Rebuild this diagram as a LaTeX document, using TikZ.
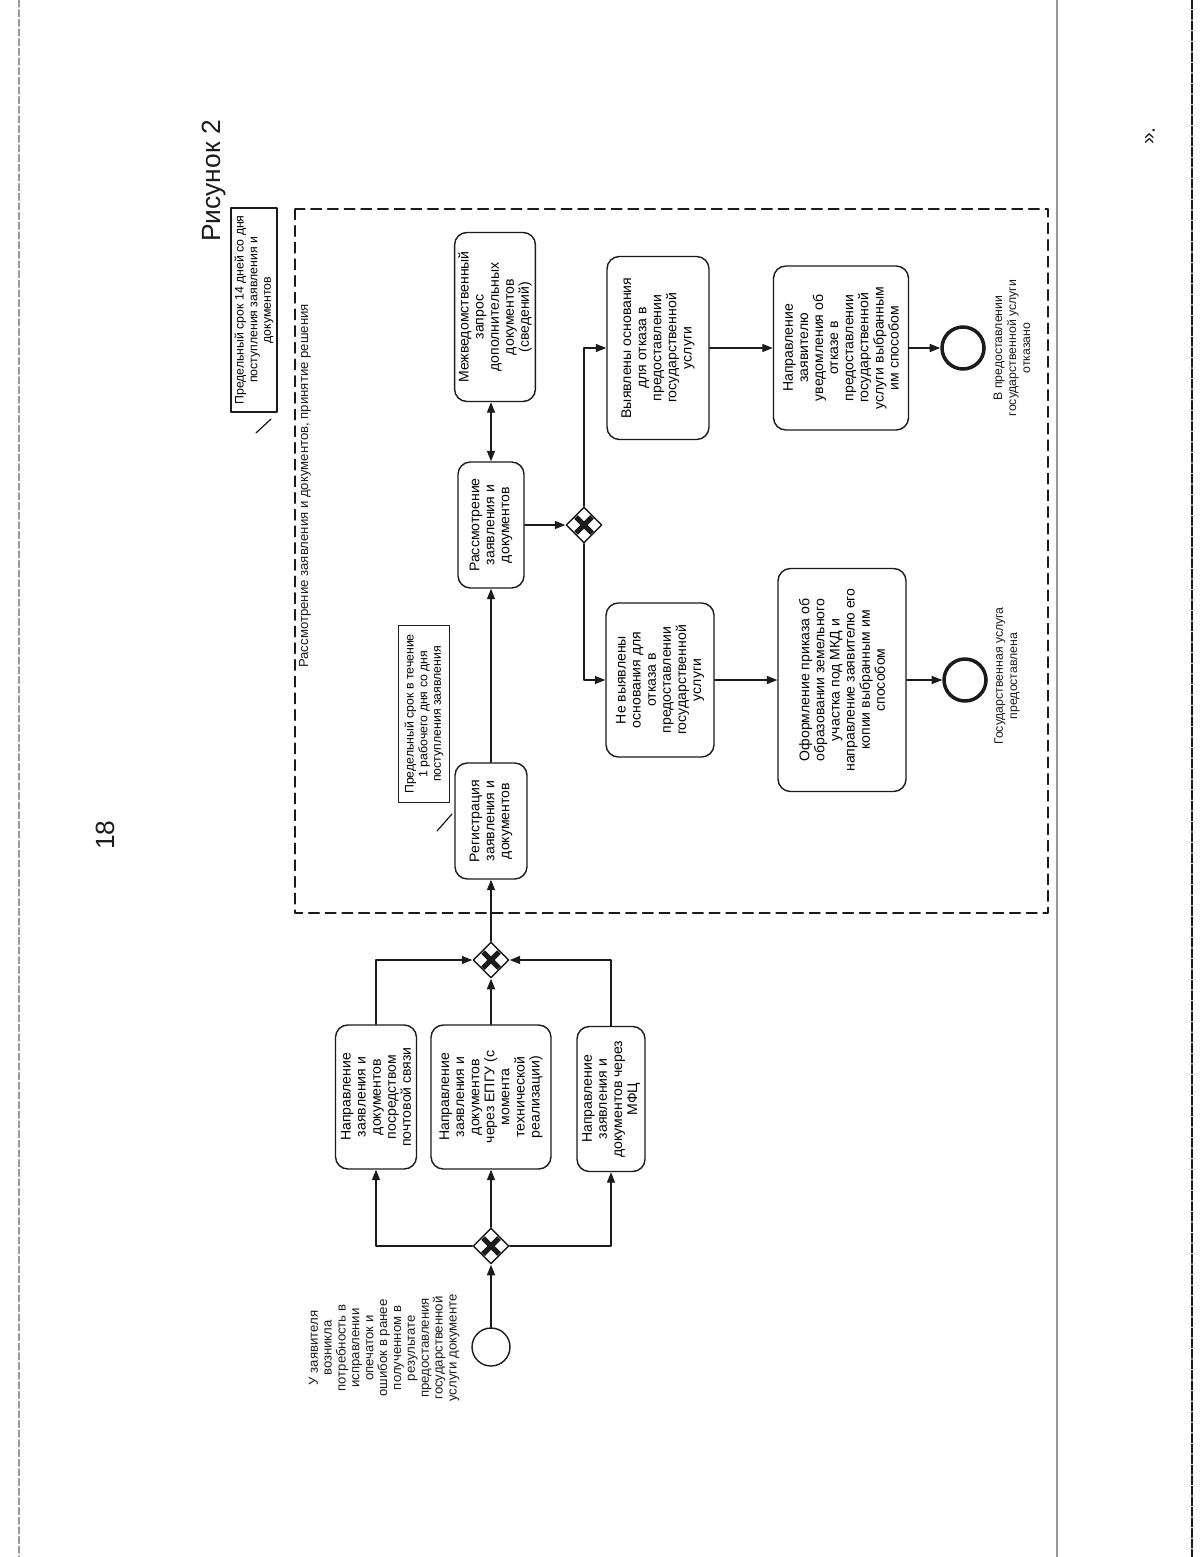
\documentclass[tikz,border=0pt]{standalone}
\usepackage{fontspec}
\setmainfont{Liberation Sans}
\usetikzlibrary{arrows.meta, shapes.geometric, calc}
\definecolor{ink}{HTML}{1B1B1B}
\definecolor{scan}{HTML}{9A9A9A}
\tikzset{task/.style={draw=ink, line width=0.8pt, rounded corners=7pt, rotate=90, align=center, inner sep=2pt, font=\fontsize{8}{8.6}\selectfont},
  gate/.style={draw=ink, line width=0.8pt, diamond, aspect=1, minimum width=0.72cm, minimum height=0.72cm, inner sep=0pt},
  ev/.style={draw=ink, circle, inner sep=0pt},
  flow/.style={draw=ink, line width=0.8pt, ->},
  note/.style={draw=ink, line width=0.8pt, rotate=90, align=center, inner sep=2pt, font=\fontsize{7}{7.8}\selectfont},
  lbl/.style={rotate=90, align=center, text=ink}}

\begin{document}
\begin{tikzpicture}[x=0.02cm, y=-0.02cm, >={Triangle[length=6pt,width=4.6pt]}, line cap=round, line join=round]
  \useasboundingbox (0,0) rectangle (1200,1557);
  \draw[scan, line width=0.6pt, dash pattern=on 4pt off 1.5pt] (19,0) -- (19,1557);
  \draw[scan, line width=1.3pt] (1057,0) -- (1057,1557);
  \draw[ink, line width=0.7pt, dash pattern=on 5pt off 1pt] (1192,0) -- (1192,1557);
  \node[lbl, font=\fontsize{15}{15}\selectfont] (pg) at (105,835) {18};
  \node[lbl, font=\fontsize{15}{15}\selectfont] (fig) at (214,181) {Рисунок 2};
  \node[lbl, font=\fontsize{12}{12}\selectfont] (quo) at (1150,136) {».};
  \draw[ink, line width=0.8pt, dash pattern=on 6pt off 3.5pt] (295,209) rectangle (1048,913);
  \node[lbl, anchor=east, font=\fontsize{7.5}{7.5}\selectfont] (phase) at (305,298) {Рассмотрение заявления и документов, принятие решения};
  % annotations
  \node[note, minimum width=4.08cm, minimum height=0.86cm] (n14) at (254,310) {Предельный срок 14 дней со дня\\поступления заявления и\\документов};
  \node[note, minimum width=3.54cm, minimum height=1.02cm] (n1) at (424,714) {Предельный срок в течение\\1 рабочего дня со дня\\поступления заявления};
  \coordinate (s1a) at (256,433);\coordinate (s1b) at (271,419);
  \coordinate (s2a) at (437,831);\coordinate (s2b) at (452,814);
  \draw[ink, line width=0.7pt] (s1a)--(s1b) (s2a)--(s2b);
  % start
  \node[ev, line width=0.8pt, minimum size=0.76cm] (start) at (491,1347) {};
  \node[lbl, font=\fontsize{7.5}{7.9}\selectfont] (stxt) at (384,1348) {У заявителя\\возникла\\потребность в\\исправлении\\опечаток и\\ошибок в ранее\\полученном в\\результате\\предоставления\\государственной\\услуги документе};
  \node[gate] (gw1) at (491,1246) {};
  \node[task, minimum width=2.88cm, minimum height=1.62cm] (post) at (376,1097) {Направление\\заявления и\\документов\\посредством\\почтовой связи};
  \node[task, minimum width=2.88cm, minimum height=2.40cm] (epgu) at (491,1097) {Направление\\заявления и\\документов\\через ЕПГУ (с\\момента\\технической\\реализации)};
  \node[task, minimum width=2.90cm, minimum height=1.36cm] (mfc) at (611,1099) {Направление\\заявления и\\документов через\\МФЦ};
  \node[gate] (gw2) at (491,960) {};
  \node[task, minimum width=2.32cm, minimum height=1.44cm] (reg) at (491,821) {Регистрация\\заявления и\\документов};
  \node[task, minimum width=2.52cm, minimum height=1.32cm] (rass) at (491,525) {Рассмотрение\\заявления и\\документов};
  \node[task, minimum width=3.38cm, minimum height=1.58cm] (mezh) at (495,317) {Межведомственный\\запрос\\дополнительных\\документов\\(сведений)};
  \node[gate] (gw3) at (584,525) {};
  \node[task, minimum width=3.66cm, minimum height=2.04cm] (vyy) at (658,348) {Выявлены основания\\для отказа в\\предоставлении\\государственной\\услуги};
  \node[task, minimum width=3.08cm, minimum height=2.16cm] (nevyy) at (660,680) {Не выявлены\\основания для\\отказа в\\предоставлении\\государственной\\услуги};
  \node[task, minimum width=3.28cm, minimum height=2.70cm] (otk) at (841,348) {Направление\\заявителю\\уведомления об\\отказе в\\предоставлении\\государственной\\услуги выбранным\\им способом};
  \node[task, minimum width=4.46cm, minimum height=2.56cm] (ofo) at (842,680) {Оформление приказа об\\образовании земельного\\участка под МКД и\\направление заявителю его\\копии выбранным им\\способом};
  \node[ev, line width=2pt, minimum size=0.84cm] (end1) at (963,348) {};
  \node[ev, line width=2pt, minimum size=0.84cm] (end2) at (965,680) {};
  \node[lbl, font=\fontsize{7}{8}\selectfont] (e1txt) at (1012,348) {В предоставлении\\государственной услуги\\отказано};
  \node[lbl, font=\fontsize{7}{8}\selectfont] (e2txt) at (1007,676) {Государственная услуга\\предоставлена};
  \foreach \g in {gw1,gw2,gw3}{\draw[ink, line width=3pt, line cap=butt] ($(\g)+(-8,-8)$)--($(\g)+(8,8)$) ($(\g)+(-8,8)$)--($(\g)+(8,-8)$);}
  % flows
  \draw[flow] (start.north) -- (gw1.south);
  \draw[flow] (gw1.west) -| (post.west);
  \draw[flow] (gw1.north) -- (epgu.west);
  \draw[flow] (gw1.east) -| (mfc.west);
  \draw[flow] (post.east) |- (gw2.west);
  \draw[flow] (epgu.east) -- (gw2.south);
  \draw[flow] (mfc.east) |- (gw2.east);
  \draw[flow] (gw2.north) -- (reg.west);
  \draw[flow] (reg.east) -- (rass.west);
  \draw[flow, <->] (rass.east) -- (rass.east |- mezh.west);
  \draw[flow] (rass.south) -- (gw3.west);
  \draw[flow] (gw3.north) |- (vyy.north);
  \draw[flow] (gw3.south) |- (nevyy.north);
  \draw[flow] (vyy.south) -- (otk.north);
  \draw[flow] (nevyy.south) -- (ofo.north);
  \draw[flow] (otk.south) -- (end1.west);
  \draw[flow] (ofo.south) -- (end2.west);
\end{tikzpicture}
\end{document}
